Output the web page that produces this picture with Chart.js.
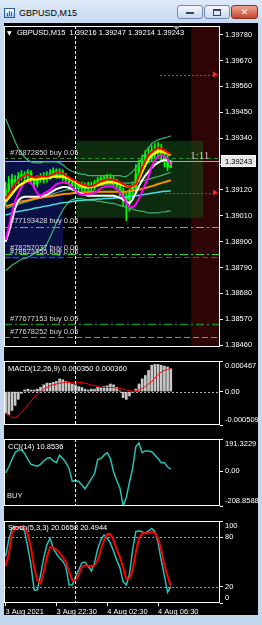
<!DOCTYPE html>
<html>
<head>
<meta charset="utf-8">
<script src="https://cdn.jsdelivr.net/npm/chart.js@4/dist/chart.umd.min.js"></script>
<style>
  html, body { margin: 0; padding: 0; }
  body { width: 262px; height: 625px; background: #c3d7ef; position: relative; overflow: hidden; font-family: 'Liberation Sans', Arial, sans-serif; }
  #titlebar { position: absolute; left: 0; top: 0; width: 262px; height: 23px; background: linear-gradient(#dfeaf8, #c6d9f0); }
  #icon { position: absolute; left: 4px; top: 8px; width: 9px; height: 8px; border: 1px solid #2f5f9a; background: linear-gradient(#ffffff, #9cc0ea); }
  #icon i { position: absolute; bottom: 1px; width: 1px; background: #2f5f9a; }
  #ttl { position: absolute; left: 19px; top: 6px; font-size: 9px; line-height: 14px; color: #000; }
  .btn { position: absolute; top: 5px; height: 12px; border: 1px solid #7088ad; border-radius: 3px; background: linear-gradient(#f3f7fc, #c9d8ec); box-sizing: content-box; }
  #bmin { left: 177px; width: 24px; }
  #bmin:after { content: ''; position: absolute; left: 8px; top: 6px; width: 8px; height: 2px; background: #33475f; }
  #bmax { left: 204px; width: 24px; }
  #bmax:after { content: ''; position: absolute; left: 8px; top: 3px; width: 6px; height: 4px; border: 1px solid #33475f; border-top-width: 2px; }
  #bclose { left: 231px; width: 25px; border-color: #8b3025; background: linear-gradient(#eaa594, #c9452f); color: #fff; font: bold 9px 'DejaVu Sans', sans-serif; text-align: center; line-height: 12px; }
  #black { position: absolute; left: 4px; top: 23px; width: 254px; height: 592px; background: #000; }
  canvas { position: absolute; left: 4px; }
</style>
</head>
<body>
<div id="titlebar">
  <div id="icon"><i style="left:2px;height:3px"></i><i style="left:4px;height:5px"></i><i style="left:6px;height:4px"></i></div>
  <div id="ttl">GBPUSD,M15</div>
  <div class="btn" id="bmin"></div>
  <div class="btn" id="bmax"></div>
  <div class="btn" id="bclose">✕</div>
</div>
<div id="black"></div>
<canvas id="main" width="254" height="345" style="top:20px"></canvas>
<canvas id="macd" width="254" height="88" style="top:355px"></canvas>
<canvas id="cci" width="254" height="91" style="top:433px"></canvas>
<canvas id="stoch" width="254" height="100" style="top:515px"></canvas>
<script>
// bar slots of the window (53 bars drawn, rest is the empty shift area)
const bars = Array.from({length: 68}, (_, i) => i)
const timeTickIdx = [0, 16, 32, 48]
const timeTickText = ['3 Aug 2021', '3 Aug 22:30', '4 Aug 02:30', '4 Aug 06:30']
const separatorBar = 22

const open = [1.39083,1.39120,1.39145,1.39165,1.39153,1.39177,1.39186,1.39173,1.39194,1.39161,
  1.39145,1.39169,1.39177,1.39165,1.39181,1.39190,1.39202,1.39186,1.39198,1.39177,
  1.39161,1.39149,1.39136,1.39145,1.39128,1.39140,1.39124,1.39136,1.39132,1.39149,
  1.39161,1.39169,1.39157,1.39173,1.39165,1.39153,1.39136,1.39116,1.39091,1.39079,
  1.39112,1.39128,1.39186,1.39218,1.39235,1.39268,1.39259,1.39288,1.39276,1.39300,
  1.39268,1.39247,1.39216]
const high = [1.39153,1.39177,1.39186,1.39181,1.39194,1.39202,1.39198,1.39206,1.39202,1.39173,
  1.39181,1.39190,1.39194,1.39198,1.39206,1.39214,1.39210,1.39210,1.39206,1.39190,
  1.39173,1.39161,1.39161,1.39153,1.39153,1.39149,1.39153,1.39153,1.39161,1.39173,
  1.39181,1.39181,1.39186,1.39186,1.39177,1.39165,1.39149,1.39128,1.39108,1.39124,
  1.39149,1.39227,1.39247,1.39268,1.39288,1.39300,1.39309,1.39317,1.39321,1.39313,
  1.39292,1.39268,1.39247]
const low = [1.39054,1.39104,1.39128,1.39136,1.39145,1.39161,1.39153,1.39161,1.39145,1.39124,
  1.39132,1.39153,1.39149,1.39153,1.39165,1.39173,1.39169,1.39169,1.39161,1.39145,
  1.39132,1.39116,1.39120,1.39112,1.39116,1.39108,1.39112,1.39116,1.39120,1.39136,
  1.39145,1.39145,1.39145,1.39149,1.39136,1.39120,1.39095,1.39054,1.38989,1.39030,
  1.39083,1.39104,1.39161,1.39194,1.39218,1.39235,1.39243,1.39255,1.39259,1.39247,
  1.39218,1.39202,1.39214]
const close = [1.39120,1.39145,1.39165,1.39153,1.39177,1.39186,1.39173,1.39194,1.39161,1.39145,
  1.39169,1.39177,1.39165,1.39181,1.39190,1.39202,1.39186,1.39198,1.39177,1.39161,
  1.39149,1.39136,1.39145,1.39128,1.39140,1.39124,1.39136,1.39132,1.39149,1.39161,
  1.39169,1.39157,1.39173,1.39165,1.39153,1.39136,1.39116,1.39091,1.39079,1.39112,
  1.39128,1.39186,1.39218,1.39235,1.39268,1.39259,1.39288,1.39276,1.39300,1.39268,
  1.39247,1.39218,1.39243]

const maRed = [1.39083,1.39104,1.39124,1.39145,1.39161,1.39173,1.39181,1.39186,1.39177,1.39173,
  1.39173,1.39177,1.39177,1.39177,1.39181,1.39186,1.39194,1.39194,1.39190,1.39181,
  1.39173,1.39165,1.39157,1.39149,1.39145,1.39140,1.39136,1.39136,1.39140,1.39149,
  1.39157,1.39161,1.39165,1.39165,1.39161,1.39157,1.39153,1.39145,1.39136,1.39132,
  1.39136,1.39145,1.39177,1.39214,1.39243,1.39268,1.39280,1.39292,1.39300,1.39296,
  1.39288,1.39280,1.39272]
const maYellow = [1.39071,1.39087,1.39104,1.39120,1.39136,1.39145,1.39153,1.39161,1.39165,1.39165,
  1.39165,1.39169,1.39169,1.39173,1.39173,1.39177,1.39177,1.39177,1.39177,1.39173,
  1.39169,1.39161,1.39153,1.39145,1.39136,1.39132,1.39132,1.39132,1.39136,1.39140,
  1.39145,1.39149,1.39153,1.39153,1.39153,1.39149,1.39145,1.39140,1.39136,1.39132,
  1.39132,1.39145,1.39169,1.39198,1.39227,1.39251,1.39268,1.39276,1.39284,1.39284,
  1.39280,1.39276,1.39268]
const maMagenta = [1.38907,1.38960,1.39022,1.39071,1.39104,1.39132,1.39153,1.39157,1.39149,1.39132,
  1.39104,1.39095,1.39104,1.39112,1.39120,1.39132,1.39145,1.39149,1.39153,1.39153,
  1.39145,1.39132,1.39116,1.39104,1.39099,1.39099,1.39104,1.39104,1.39108,1.39116,
  1.39128,1.39132,1.39136,1.39136,1.39132,1.39124,1.39112,1.39091,1.39067,1.39046,
  1.39046,1.39058,1.39083,1.39112,1.39145,1.39177,1.39218,1.39247,1.39263,1.39268,
  1.39263,1.39251,1.39227]
const maWhite = [1.38899,1.38940,1.38989,1.39042,1.39075,1.39087,1.39091,1.39091,1.39091,1.39091,
  1.39091,1.39095,1.39095,1.39099,1.39108,1.39116,1.39124,1.39128,1.39132,1.39132,
  1.39128,1.39124,1.39116,1.39108,1.39104,1.39099,1.39095,1.39095,1.39095,1.39095,
  1.39095,1.39095,1.39095,1.39095,1.39095,1.39091,1.39087,1.39079,1.39071,1.39063,
  1.39079,1.39108,1.39136,1.39161,1.39181,1.39198,1.39214,1.39227,1.39235,1.39243,
  1.39247,1.39247,1.39235]
const maOrange = [1.39050,1.39054,1.39058,1.39063,1.39067,1.39071,1.39073,1.39075,1.39079,1.39083,
  1.39085,1.39087,1.39089,1.39091,1.39093,1.39095,1.39097,1.39099,1.39102,1.39104,
  1.39104,1.39106,1.39108,1.39108,1.39110,1.39110,1.39110,1.39112,1.39112,1.39112,
  1.39112,1.39112,1.39112,1.39112,1.39112,1.39112,1.39112,1.39112,1.39112,1.39114,
  1.39116,1.39120,1.39122,1.39124,1.39128,1.39132,1.39136,1.39140,1.39145,1.39149,
  1.39153,1.39157,1.39161]
const maCyan = [1.39013,1.39017,1.39022,1.39026,1.39028,1.39030,1.39034,1.39036,1.39038,1.39042,
  1.39044,1.39046,1.39050,1.39052,1.39054,1.39058,1.39060,1.39063,1.39065,1.39067,
  1.39069,1.39071,1.39073,1.39075,1.39075,1.39077,1.39077,1.39079,1.39079,1.39081,
  1.39081,1.39083,1.39083,1.39085,1.39085,1.39087,1.39087,1.39089,1.39089,1.39091,
  1.39093,1.39095,1.39097,1.39099,1.39102,1.39104,1.39106,1.39108,1.39110,1.39112,
  1.39114,1.39114,1.39116]
const bandUpper = [1.39423,1.39391,1.39358,1.39325,1.39296,1.39276,1.39259,1.39247,1.39239,1.39235,
  1.39235,1.39235,1.39239,1.39239,1.39239,1.39239,1.39239,1.39235,1.39227,1.39214,
  1.39206,1.39198,1.39194,1.39190,1.39186,1.39186,1.39181,1.39181,1.39181,1.39181,
  1.39181,1.39181,1.39181,1.39181,1.39181,1.39181,1.39181,1.39177,1.39177,1.39186,
  1.39198,1.39214,1.39235,1.39255,1.39280,1.39300,1.39317,1.39325,1.39333,1.39337,
  1.39341,1.39345,1.39350]
const bandMid = [1.39042,1.39046,1.39050,1.39054,1.39058,1.39063,1.39067,1.39071,1.39075,1.39079,
  1.39083,1.39087,1.39091,1.39095,1.39099,1.39104,1.39108,1.39112,1.39116,1.39120,
  1.39120,1.39124,1.39124,1.39128,1.39128,1.39132,1.39132,1.39136,1.39136,1.39140,
  1.39140,1.39140,1.39145,1.39145,1.39145,1.39149,1.39149,1.39149,1.39149,1.39149,
  1.39153,1.39153,1.39157,1.39157,1.39161,1.39165,1.39169,1.39173,1.39177,1.39181,
  1.39186,1.39190,1.39194]
const bandLower = [1.38776,1.38788,1.38800,1.38808,1.38817,1.38825,1.38829,1.38833,1.38841,1.38849,
  1.38858,1.38866,1.38874,1.38890,1.38919,1.38948,1.38981,1.39009,1.39034,1.39054,
  1.39071,1.39079,1.39083,1.39083,1.39083,1.39079,1.39079,1.39075,1.39075,1.39071,
  1.39071,1.39067,1.39067,1.39063,1.39063,1.39058,1.39054,1.39050,1.39046,1.39042,
  1.39038,1.39034,1.39030,1.39030,1.39026,1.39022,1.39022,1.39022,1.39022,1.39026,
  1.39026,1.39030,1.39030]

const priceTicks = [1.38460,1.38570,1.38680,1.38790,1.38900,1.39010,1.39120,1.39230,1.39340,1.39450,1.39560,1.39670,1.39780]

// trade objects on the chart
const orderTickets = ['#76872850', '#77193428', '#78257037', '#78823455', '#77677153', '#77678252']
const orderLots = ['0.05', '0.05', '0.06', '0.05', '0.05', '0.05']
const orderPrices = [1.39255, 1.38964, 1.38849, 1.38833, 1.38550, 1.38493]
const orderStyles = [
  {color: '#2f8f2f', dash: [4, 3], width: 1},
  {color: '#3ad13a', dash: [8, 3, 2, 3], width: 1},
  {color: '#3ad13a', dash: [8, 3, 2, 3], width: 1},
  {color: '#1f7a1f', dash: [6, 3], width: 1},
  {color: '#228b22', dash: [8, 3, 2, 3], width: 1.5},
  {color: '#32cd32', dash: [6, 3], width: 1}
]
const targetPrices = [1.39612, 1.39112]
const targetFrom = [48.6, 50.2]
const zoneRed = [58.4, 67.5]
const zoneGreen = [22.2, 62.2, 1.39329, 1.39001]
const zoneNavy = [-0.5, 18.1, 1.39247, 1.38825]
const barTimer = '1:11'

const macdMain = [-0.000327,-0.000353,-0.000288,-0.000210,-0.000118,-0.000027,0.000025,0.000038,0.000025,0.000025,
  0.000038,0.000064,0.000103,0.000129,0.000129,0.000142,0.000155,0.000194,0.000181,0.000155,
  0.000142,0.000116,0.000103,0.000077,0.000064,0.000038,0.000025,0.000038,0.000038,0.000064,
  0.000064,0.000077,0.000090,0.000116,0.000103,0.000064,0.000012,-0.000092,-0.000118,-0.000066,
  -0.000014,0.000038,0.000116,0.000194,0.000246,0.000324,0.000402,0.000415,0.000415,0.000402,
  0.000389,0.000376,0.000350]
const macdSignal = [-0.000327,-0.000353,-0.000392,-0.000392,-0.000366,-0.000314,-0.000262,-0.000197,-0.000145,-0.000079,
  -0.000040,0,0.000038,0.000064,0.000090,0.000103,0.000116,0.000129,0.000135,0.000142,
  0.000142,0.000142,0.000142,0.000142,0.000142,0.000129,0.000116,0.000103,0.000090,0.000077,
  0.000064,0.000064,0.000064,0.000064,0.000064,0.000051,0.000051,0.000038,0.000025,0.000012,
  0.000005,0.000012,0.000025,0.000051,0.000077,0.000116,0.000155,0.000207,0.000259,0.000298,
  0.000324,0.000337,0.000360]
const macdTicks = [-0.000509, 0, 0.000467]

const cci = [-11,24,70,110,126,126,105,70,40,34,
  29,40,60,75,80,60,50,95,75,50,
  14,-62,-57,-62,-82,-107,-77,-47,-16,70,
  75,95,110,75,-6,-57,-102,-208.8588,-158,-67,
  14,146,168,110,120,120,115,95,75,50,
  50,24,10.8536]
const cciTicks = [-208.8588, 0, 191.3229]
const cciLevels = [-200]

const stochMain = [57,77,91,93,93,91,88,68,46,16,
  16,34,55,71,79,67,60,55,51,44,
  22,22,32,40,49,50,45,39,49,66,
  77,83,79,73,63,52,43,26,22,35,
  65,87,88,87,85,88,91,87,74,52,
  33,13,20.0658]
const stochSignal = [45,59,85,91,93,93,91,84,67,43,
  28,24,38,56,68,68,65,61,56,50,
  38,28,28,34,44,46,45,45,46,52,
  65,77,84,84,77,65,56,43,30,30,
  40,62,79,85,85,85,87,85,79,65,
  46,33,20.4944]
const stochTicks = [0, 20, 80, 100]
const stochLevels = [20, 80]

Chart.defaults.font.family = "'Liberation Sans', Arial, sans-serif"
Chart.defaults.font.size = 7.5
Chart.defaults.color = '#ffffff'
Chart.defaults.animation = false
Chart.defaults.responsive = false
Chart.defaults.maintainAspectRatio = false
Chart.defaults.plugins.legend.display = false
Chart.defaults.plugins.tooltip.enabled = false
Chart.defaults.elements.point.radius = 0
Chart.defaults.elements.line.tension = 0

const FONT = "7.5px 'Liberation Sans', Arial, sans-serif"
const last = a => a[a.length - 1]

function xScale(show) {
    return {
        type: 'category',
        offset: true,
        display: show,
        border: {display: false},
        grid: {display: show, offset: false, drawOnChartArea: false, drawTicks: true, tickLength: 3, color: '#ffffff'},
        ticks: {
            autoSkip: false, maxRotation: 0, align: 'start', padding: 1, color: '#ffffff',
            callback: v => timeTickText[timeTickIdx.indexOf(v)]
        },
        afterBuildTicks: s => { s.ticks = timeTickIdx.map(v => ({value: v})) },
        afterFit: s => { s.height = 12 }
    }
}

function yScale(min, max, tickVals, fmt, edgeInside) {
    return {
        position: 'right',
        min: min,
        max: max,
        border: {display: false},
        grid: {drawOnChartArea: false, drawTicks: true, tickLength: 3, color: '#ffffff'},
        ticks: {
            color: '#ffffff', padding: 2, autoSkip: false,
            font: {size: 7.5, lineHeight: 1.4},
            callback: v => {
                const s = fmt(v)
                if (edgeInside && v === max) return ['', s]
                if (edgeInside && v === min) return [s, '']
                return s
            }
        },
        afterBuildTicks: s => { s.ticks = tickVals.map(v => ({value: v})) },
        afterFit: s => { s.width = 38; s.paddingTop = 0; s.paddingBottom = 0 }
    }
}

function hline(ctx, a, yPix, color, dash, width, fromX) {
    ctx.save()
    ctx.strokeStyle = color
    ctx.lineWidth = width || 1
    ctx.setLineDash(dash || [])
    const yy = Math.round(yPix) + 0.5
    ctx.beginPath()
    ctx.moveTo(fromX === undefined ? a.left : fromX, yy)
    ctx.lineTo(a.right, yy)
    ctx.stroke()
    ctx.restore()
}

function separator(chart) {
    const {ctx, chartArea: a, scales: {x}} = chart
    const px = Math.round(x.getPixelForValue(separatorBar)) + 0.5
    ctx.save()
    ctx.strokeStyle = '#ffffff'
    ctx.lineWidth = 1
    ctx.setLineDash([3, 2])
    ctx.beginPath()
    ctx.moveTo(px, a.top)
    ctx.lineTo(px, a.bottom)
    ctx.stroke()
    ctx.restore()
}

function frame(chart) {
    const {ctx, chartArea: a} = chart
    ctx.save()
    ctx.strokeStyle = '#ffffff'
    ctx.lineWidth = 1
    ctx.strokeRect(a.left + 0.5, a.top + 0.5, a.right - a.left - 1, a.bottom - a.top - 1)
    ctx.restore()
}

function text(ctx, str, x, y, color, font, baseline) {
    ctx.save()
    ctx.fillStyle = color || '#ffffff'
    ctx.font = font || FONT
    ctx.textBaseline = baseline || 'middle'
    ctx.textAlign = 'left'
    ctx.fillText(str, x, y)
    ctx.restore()
}

const mainDecor = {
    id: 'mainDecor',
    beforeDatasetsDraw(chart) {
        const {ctx, chartArea: a, scales: {x, y}} = chart
        ctx.save()
        const rx = x.getPixelForValue(zoneRed[0])
        ctx.fillStyle = '#2e0404'
        ctx.fillRect(rx, a.top, a.right - rx, a.bottom - a.top)
        const box = (b, c) => {
            const x1 = x.getPixelForValue(b[0]), x2 = x.getPixelForValue(b[1])
            const y1 = y.getPixelForValue(b[2]), y2 = y.getPixelForValue(b[3])
            ctx.fillStyle = c
            ctx.fillRect(x1, y1, x2 - x1, y2 - y1)
        }
        box(zoneNavy, '#0b1046')
        box(zoneGreen, 'rgba(22,72,22,0.6)')
        ctx.restore()
        hline(ctx, a, y.getPixelForValue(last(close)), '#a8a8a8', [], 1)
        orderPrices.forEach((p, i) => {
            const st = orderStyles[i]
            hline(ctx, a, y.getPixelForValue(p), st.color, st.dash, st.width)
        })
        targetPrices.forEach((p, i) => {
            const yy = Math.round(y.getPixelForValue(p)) + 0.5
            const tip = a.right - 2
            hline(ctx, {left: a.left, right: tip - 4}, yy, '#ff2020', [2, 2], 1, x.getPixelForValue(targetFrom[i]))
            ctx.save()
            ctx.fillStyle = '#ff2020'
            ctx.beginPath()
            ctx.moveTo(tip - 5, yy - 3)
            ctx.lineTo(tip, yy)
            ctx.lineTo(tip - 5, yy + 3)
            ctx.closePath()
            ctx.fill()
            ctx.restore()
        })
    },
    afterDatasetsDraw(chart) {
        const {ctx, chartArea: a, scales: {x, y}} = chart
        separator(chart)
        orderPrices.forEach((p, i) => {
            text(ctx, orderTickets[i] + ' buy ' + orderLots[i], a.left + 6, y.getPixelForValue(p) - 1.5, '#d8d8d8', FONT, 'bottom')
        })
        text(ctx, barTimer, x.getPixelForValue(58.1), y.getPixelForValue(1.39262), '#c8c8c8', "11px 'Liberation Serif', serif")
        text(ctx, '▼', a.left + 3, a.top + 7, '#ffffff', "6px 'DejaVu Sans', sans-serif")
        const hdr = 'GBPUSD,M15  ' + [last(open), last(high), last(low), last(close)].map(v => v.toFixed(5)).join(' ')
        text(ctx, hdr, a.left + 13, a.top + 7)
    },
    afterDraw(chart) {
        const {ctx, chartArea: a, scales: {y}} = chart
        frame(chart)
        // shift marker
        ctx.save()
        ctx.fillStyle = '#9a9a9a'
        ctx.beginPath()
        ctx.moveTo(169, a.top)
        ctx.lineTo(176, a.top)
        ctx.lineTo(172.5, a.top + 4)
        ctx.closePath()
        ctx.fill()
        // bid label on the price axis
        const by = Math.round(y.getPixelForValue(last(close)))
        ctx.fillStyle = '#e6e6e6'
        ctx.fillRect(a.right + 1, by - 6, 35, 12)
        ctx.strokeStyle = '#ffffff'
        ctx.strokeRect(a.right + 1.5, by - 5.5, 34, 11)
        ctx.restore()
        text(ctx, last(close).toFixed(5), a.right + 5, by + 0.5, '#000000')
    }
}

new Chart(document.getElementById('main'), {
    type: 'bar',
    data: {
        labels: bars,
        datasets: [
            {type: 'line', data: maRed, borderColor: '#ff0000', borderWidth: 2, order: 1},
            {type: 'line', data: maYellow, borderColor: '#ffff00', borderWidth: 2.5, order: 2},
            {type: 'line', data: maMagenta, borderColor: '#ff00ff', borderWidth: 2, order: 3},
            {type: 'line', data: maWhite, borderColor: '#ffffff', borderWidth: 2, order: 4},
            {type: 'line', data: maOrange, borderColor: '#ff8c00', borderWidth: 2, order: 5},
            {type: 'line', data: maCyan, borderColor: '#40e0e0', borderWidth: 1.5, order: 6},
            {type: 'line', data: bandUpper, borderColor: '#3cb371', borderWidth: 1.2, order: 7},
            {type: 'line', data: bandMid, borderColor: '#3cb371', borderWidth: 1.2, order: 7},
            {type: 'line', data: bandLower, borderColor: '#3cb371', borderWidth: 1.2, order: 7},
            {type: 'bar', data: open.map((o, i) => [o, close[i]]), backgroundColor: '#00ff00', barThickness: 2, grouped: false, minBarLength: 1, order: 9},
            {type: 'bar', data: low.map((l, i) => [l, high[i]]), backgroundColor: '#00ff00', barThickness: 1, grouped: false, order: 10}
        ]
    },
    options: {
        layout: {padding: {top: 6, bottom: 6, left: 0, right: 0}},
        scales: {
            x: xScale(false),
            y: yScale(1.38452, 1.39817, priceTicks, v => v.toFixed(5), false)
        }
    },
    plugins: [mainDecor]
})

new Chart(document.getElementById('macd'), {
    type: 'bar',
    data: {
        labels: bars,
        datasets: [
            {type: 'line', data: macdSignal, borderColor: '#ff0000', borderWidth: 1, order: 1},
            {type: 'bar', data: macdMain, backgroundColor: '#c8c8c8', barThickness: 2, order: 2}
        ]
    },
    options: {
        layout: {padding: {top: 6, bottom: 6, left: 0, right: 0}},
        scales: {
            x: xScale(false),
            y: yScale(-0.000509, 0.000467, macdTicks, v => v === 0 ? '0.00' : v.toFixed(6), true)
        }
    },
    plugins: [{
        id: 'macdDecor',
        beforeDatasetsDraw(chart) {
            const {ctx, chartArea: a, scales: {y}} = chart
            hline(ctx, a, y.getPixelForValue(0), '#b0b0b0', [2, 2], 1)
        },
        afterDatasetsDraw(chart) {
            const {ctx, chartArea: a} = chart
            separator(chart)
            text(ctx, 'MACD(12,26,9) ' + last(macdMain).toFixed(6) + ' ' + last(macdSignal).toFixed(6), a.left + 4, a.top + 8)
        },
        afterDraw: frame
    }]
})

new Chart(document.getElementById('cci'), {
    type: 'line',
    data: {
        labels: bars,
        datasets: [{data: cci, borderColor: '#26c2b4', borderWidth: 1.5}]
    },
    options: {
        layout: {padding: {top: 6, bottom: 6, left: 0, right: 0}},
        scales: {
            x: xScale(false),
            y: yScale(-208.8588, 191.3229, cciTicks, v => v === 0 ? '0.00' : v.toFixed(4), true)
        }
    },
    plugins: [{
        id: 'cciDecor',
        beforeDatasetsDraw(chart) {
            const {ctx, chartArea: a, scales: {y}} = chart
            cciLevels.forEach(l => hline(ctx, a, y.getPixelForValue(l), '#a0a0a0', [2, 2], 1))
        },
        afterDatasetsDraw(chart) {
            const {ctx, chartArea: a} = chart
            separator(chart)
            text(ctx, 'CCI(14) ' + last(cci).toFixed(4), a.left + 4, a.top + 8)
            text(ctx, 'BUY', a.left + 3, a.bottom - 10, '#e8e8e8')
        },
        afterDraw: frame
    }]
})

new Chart(document.getElementById('stoch'), {
    type: 'line',
    data: {
        labels: bars,
        datasets: [
            {data: stochSignal, borderColor: '#ff0000', borderWidth: 2, order: 1},
            {data: stochMain, borderColor: '#26c2b4', borderWidth: 1.5, order: 2}
        ]
    },
    options: {
        layout: {padding: {top: 6, bottom: 0, left: 0, right: 0}},
        scales: {
            x: xScale(true),
            y: yScale(0, 100, stochTicks, v => String(v), true)
        }
    },
    plugins: [{
        id: 'stochDecor',
        beforeDatasetsDraw(chart) {
            const {ctx, chartArea: a, scales: {y}} = chart
            stochLevels.forEach(l => hline(ctx, a, y.getPixelForValue(l), '#a0a0a0', [2, 2], 1))
        },
        afterDatasetsDraw(chart) {
            const {ctx, chartArea: a} = chart
            separator(chart)
            text(ctx, 'Stoch(5,3,3) ' + last(stochMain).toFixed(4) + ' ' + last(stochSignal).toFixed(4), a.left + 4, a.top + 7)
        },
        afterDraw: frame
    }]
})
</script>
</body>
</html>
